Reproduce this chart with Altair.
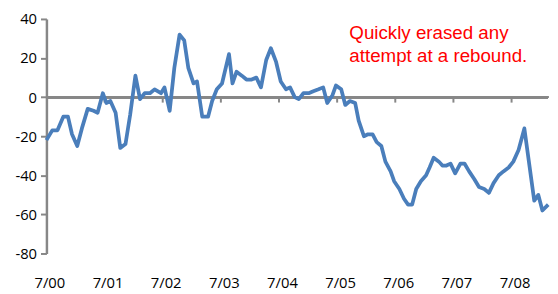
import altair as alt
import pandas as pd

# decimal years (7/00 = 2000.5) and index values
years = [
    2000.50, 2000.60, 2000.69, 2000.79, 2000.87, 2000.94, 2001.03, 2001.11, 2001.21, 2001.31,
    2001.38, 2001.47, 2001.53, 2001.60, 2001.69, 2001.77, 2001.86, 2001.94, 2002.03, 2002.11,
    2002.19, 2002.28, 2002.36, 2002.47, 2002.53, 2002.62, 2002.70, 2002.79, 2002.87, 2002.94,
    2003.03, 2003.09, 2003.18, 2003.28, 2003.35, 2003.43, 2003.52, 2003.64, 2003.70, 2003.77,
    2003.86, 2003.94, 2004.03, 2004.11, 2004.19, 2004.28, 2004.36, 2004.45, 2004.53, 2004.62,
    2004.69, 2004.77, 2004.84, 2004.92, 2005.01, 2005.09, 2005.18, 2005.26, 2005.33, 2005.42,
    2005.48, 2005.57, 2005.64, 2005.72, 2005.81, 2005.87, 2005.96, 2006.03, 2006.11, 2006.18,
    2006.26, 2006.33, 2006.42, 2006.48, 2006.57, 2006.65, 2006.72, 2006.79, 2006.86, 2006.94,
    2007.03, 2007.09, 2007.16, 2007.25, 2007.31, 2007.38, 2007.45, 2007.53, 2007.62, 2007.69,
    2007.77, 2007.86, 2007.94, 2008.03, 2008.11, 2008.19, 2008.28, 2008.36, 2008.45, 2008.53,
    2008.62, 2008.72, 2008.89, 2008.96, 2009.03, 2009.13,
]
values = [
    -22, -17, -17, -10, -10, -19, -25, -16, -6, -7,
    -8, 2, -3, -2, -8, -26, -24, -9, 11, -1,
    2, 2, 4, 2, 5, -7, 15, 32, 29, 15,
    7, 8, -10, -10, -2, 4, 7, 22, 7, 13,
    11, 9, 9, 10, 5, 19, 25, 18, 8, 4,
    5, 0, -1, 2, 2, 3, 4, 5, -3, 1,
    6, 4, -4, -2, -3, -12, -20, -19, -19, -23,
    -25, -33, -38, -43, -47, -52, -55, -55, -47, -43,
    -40, -36, -31, -33, -35, -35, -34, -39, -34, -34,
    -38, -42, -46, -47, -49, -44, -40, -38, -36, -33,
    -27, -16, -53, -50, -58, -55,
]
tick_years = [2001.5, 2002.5, 2003.5, 2004.5, 2005.5, 2006.5, 2007.5, 2008.5]
label_years = [2000.5] + tick_years
y_ticks = [-80, -60, -40, -20, 0, 20, 40]
note = "Quickly erased any\nattempt at a rebound."

df = pd.DataFrame({"t": years, "v": values})
ticks_df = pd.DataFrame({"t": tick_years})

FONT = "Open Sans"
GRAY = "#878787"

xscale = alt.Scale(domain=[2000.5, 2009.127], nice=False, zero=False)
yscale = alt.Scale(domain=[-80, 40], nice=False)

xaxis = alt.Axis(
    values=label_years, title=None, domain=False, ticks=False, grid=False,
    labelExpr="'7/0' + (floor(datum.value) - 2000)", labelFlush=False,
    labelOverlap=False, labelPadding=23, labelOffset=3, labelFont=FONT,
    labelFontSize=15, labelColor="#000000")
yaxis = alt.Axis(
    values=y_ticks, title=None, grid=False, domainColor=GRAY, domainWidth=2.5,
    tickColor=GRAY, tickWidth=2, tickSize=6, labelPadding=4, labelFont=FONT,
    labelFontSize=15, labelColor="#000000", labelOverlap=False, labelFlush=False,
    labelBound=False,
    labelExpr="datum.value < 0 ? '-' + abs(datum.value) : '' + datum.value")

zero = alt.Chart(df).mark_rule(color=GRAY, strokeWidth=2.5).encode(
    y=alt.Y(datum=0, scale=yscale, axis=yaxis))

xticks = alt.Chart(ticks_df).mark_rule(color=GRAY, strokeWidth=2).encode(
    x=alt.X("t:Q", scale=xscale, axis=xaxis),
    y=alt.Y(datum=0, scale=yscale, axis=yaxis),
    y2=alt.datum(-2.8),
)

line = alt.Chart(df).mark_line(color="#4A7EBB", strokeWidth=3.8, strokeJoin="round").encode(
    x=alt.X("t:Q", scale=xscale, axis=xaxis),
    y=alt.Y("v:Q", scale=yscale, axis=yaxis),
)

text = alt.Chart(pd.DataFrame({"t": [2005.71], "v": [33.0], "s": [note]})).mark_text(
    align="left", baseline="middle", color="#FF0000", font="Liberation Sans",
    fontSize=19, lineBreak="\n", lineHeight=24,
).encode(
    x=alt.X("t:Q", scale=xscale, axis=xaxis),
    y=alt.Y("v:Q", scale=yscale, axis=yaxis),
    text="s:N",
)

chart = alt.layer(zero, xticks, line, text).properties(
    width=509, height=238,
    autosize=alt.AutoSizeParams(type="none"),
    padding={"left": 39, "top": 9, "right": 2, "bottom": 39},
).configure_view(stroke=None)

chart.save("out.html", embed_options={"renderer": "svg", "actions": False})
